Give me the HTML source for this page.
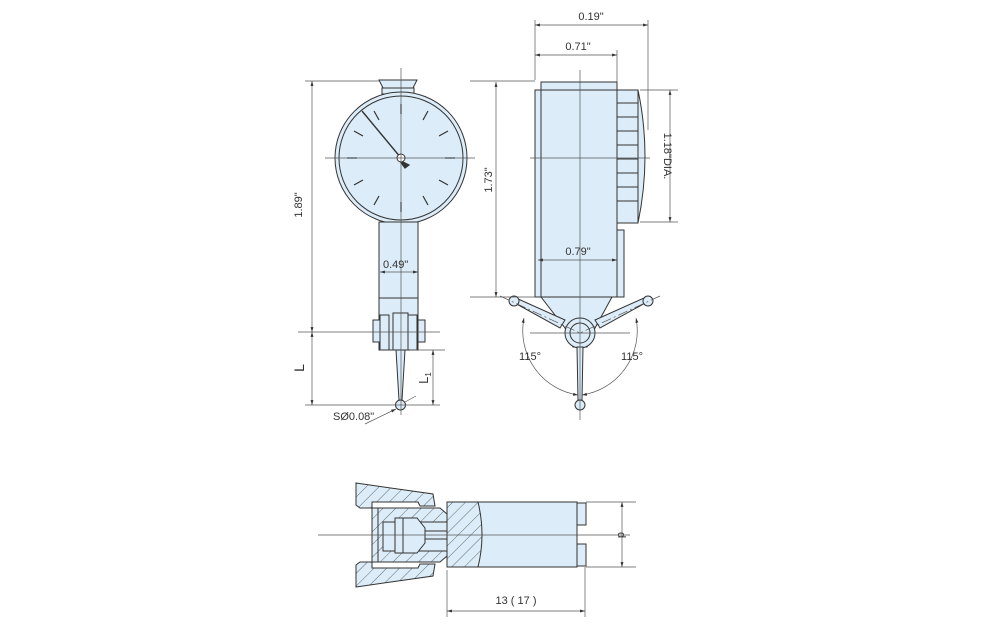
<!DOCTYPE html>
<html><head><meta charset="utf-8"><style>
html,body{margin:0;padding:0;background:#fff;}
svg{display:block;}
text{font-family:"Liberation Sans",sans-serif;font-size:11px;fill:#333;}
</style></head><body>
<svg width="1000" height="635" viewBox="0 0 1000 635" xmlns="http://www.w3.org/2000/svg">
<defs>
<pattern id="h" width="9" height="9" patternUnits="userSpaceOnUse" patternTransform="rotate(45)">
<rect width="9" height="9" fill="#dcedf9"/><line x1="0" y1="0" x2="0" y2="9" stroke="#444" stroke-width="0.8"/>
</pattern>
<marker id="a" viewBox="0 0 10 10" refX="10" refY="5" markerWidth="7" markerHeight="7" orient="auto-start-reverse"><path d="M0,2 L10,5 L0,8 z" fill="#333"/></marker>
</defs>
<g stroke="#333" stroke-width="1" fill="#dcedf9">
<!-- LEFT VIEW -->
<path d="M379,80 L417,80 L412,90 L384,90 Z"/>
<rect x="382" y="88" width="32" height="6"/>
<circle cx="401" cy="158" r="66"/>
<circle cx="401" cy="158" r="62"/>
<rect x="379" y="222" width="39" height="76"/>
<rect x="379" y="298" width="39" height="52"/>
<rect x="373" y="320" width="7" height="22"/>
<rect x="418" y="320" width="7" height="22"/>
<rect x="380" y="315" width="9" height="35"/>
<rect x="408" y="315" width="9" height="35"/>
<rect x="393" y="313" width="15" height="37"/>
<path d="M396,350 L405,350 L402,400 L399,400 Z"/>
<circle cx="400.5" cy="405" r="5"/>
</g>
<g stroke="#333" stroke-width="1.2">
<line x1="401" y1="104" x2="401" y2="114"/><line x1="401" y1="202" x2="401" y2="212"/>
<line x1="347" y1="158" x2="357" y2="158"/><line x1="445" y1="158" x2="455" y2="158"/>
<line x1="374" y1="111" x2="379" y2="120"/><line x1="428" y1="111" x2="423" y2="120"/>
<line x1="354" y1="131" x2="363" y2="136"/><line x1="448" y1="131" x2="439" y2="136"/>
<line x1="354" y1="185" x2="363" y2="180"/><line x1="448" y1="185" x2="439" y2="180"/>
<line x1="374" y1="205" x2="379" y2="196"/><line x1="428" y1="205" x2="423" y2="196"/>
<line x1="362" y1="111" x2="401" y2="158" stroke-width="1.4"/>
<path d="M399,160 L409,165 L405,168 Z" fill="#333"/>
</g>
<circle cx="401" cy="158" r="4" fill="#fff" stroke="#333"/>
<g stroke="#555" stroke-width="0.7" fill="none">
<line x1="401" y1="68" x2="401" y2="415"/>
<line x1="325" y1="158" x2="475" y2="158"/>
<line x1="305" y1="81" x2="380" y2="81"/>
<line x1="298" y1="332" x2="440" y2="332"/>
<line x1="410" y1="350" x2="445" y2="350"/>
<line x1="305" y1="405" x2="440" y2="405"/>
<line x1="312" y1="81" x2="312" y2="332" marker-start="url(#a)" marker-end="url(#a)"/>
<line x1="312" y1="332" x2="312" y2="405" marker-start="url(#a)" marker-end="url(#a)"/>
<line x1="433" y1="350" x2="433" y2="405" marker-start="url(#a)" marker-end="url(#a)"/>
<line x1="380" y1="272" x2="418" y2="272" marker-start="url(#a)" marker-end="url(#a)"/>
<line x1="365" y1="424" x2="396" y2="409" marker-end="url(#a)"/>
<line x1="416" y1="396" x2="405" y2="402"/>
</g>
<text x="302" y="205" transform="rotate(-90 302 205)" text-anchor="middle">1.89"</text>
<text x="383" y="268">0.49"</text>
<text x="304" y="368" transform="rotate(-90 304 368)" text-anchor="middle" style="font-size:14px">L</text>
<text x="428" y="378" transform="rotate(-90 428 378)" text-anchor="middle" style="font-size:13px">L<tspan style="font-size:8px" dy="3">1</tspan></text>
<text x="333" y="420">SØ0.08"</text>

<!-- RIGHT VIEW -->
<g stroke="#333" stroke-width="1" fill="#dcedf9">
<path d="M617,90 L638,90 Q652,156 638,223 L617,223 Z"/>
<rect x="617" y="90" width="21" height="133"/>
<rect x="617" y="230" width="7" height="67"/>
<rect x="541" y="82" width="76" height="8"/>
<rect x="535" y="90" width="82" height="207"/>
<line x1="541" y1="90" x2="541" y2="297"/>
<path d="M541,297 L612,297 L595,328 L587,347 L573,347 L565,328 Z"/>
<path d="M513,302 L560,328 L565,320 L516,298 Z"/>
<path d="M647,302 L600,328 L595,320 L644,298 Z"/>
<circle cx="514" cy="301" r="5"/>
<circle cx="648" cy="301" r="5"/>
<circle cx="580" cy="333" r="15"/>
<circle cx="580" cy="333" r="10"/>
<path d="M577,347 L583,347 L582,400 L578,400 Z"/>
<circle cx="580" cy="405" r="5"/>
</g>
<g stroke="#333" stroke-width="1">
<line x1="617" y1="103" x2="638" y2="103"/><line x1="617" y1="117" x2="638" y2="117"/>
<line x1="617" y1="131" x2="638" y2="131"/><line x1="617" y1="145" x2="638" y2="145"/>
<line x1="617" y1="159" x2="638" y2="159"/><line x1="617" y1="173" x2="638" y2="173"/>
<line x1="617" y1="187" x2="638" y2="187"/><line x1="617" y1="201" x2="638" y2="201"/>
</g>
<g stroke="#555" stroke-width="0.7" fill="none">
<line x1="580" y1="70" x2="580" y2="420"/>
<line x1="530" y1="158" x2="650" y2="158"/>
<line x1="530" y1="333" x2="630" y2="333"/>
<line x1="535" y1="20" x2="535" y2="80"/>
<line x1="470" y1="81" x2="535" y2="81"/>
<line x1="617" y1="50" x2="617" y2="82"/>
<line x1="648" y1="20" x2="648" y2="130"/>
<line x1="535" y1="25" x2="648" y2="25" marker-start="url(#a)" marker-end="url(#a)"/>
<line x1="535" y1="55" x2="617" y2="55" marker-start="url(#a)" marker-end="url(#a)"/>
<line x1="470" y1="297" x2="535" y2="297"/>
<line x1="496" y1="82" x2="496" y2="297" marker-start="url(#a)" marker-end="url(#a)"/>
<line x1="640" y1="90" x2="678" y2="90"/>
<line x1="640" y1="222" x2="678" y2="222"/>
<line x1="670" y1="90" x2="670" y2="222" marker-start="url(#a)" marker-end="url(#a)"/>
<line x1="538" y1="260" x2="617" y2="260" marker-start="url(#a)" marker-end="url(#a)"/>
<line x1="500" y1="296" x2="580" y2="333" stroke-dasharray="10,3,2,3"/>
<line x1="660" y1="296" x2="580" y2="333" stroke-dasharray="10,3,2,3"/>
<path d="M524,318 A65,65 0 0 0 578,395" marker-start="url(#a)" marker-end="url(#a)"/>
<path d="M636,318 A65,65 0 0 1 582,395" marker-start="url(#a)" marker-end="url(#a)"/>
</g>
<text x="591" y="20" text-anchor="middle">0.19"</text>
<text x="578" y="50" text-anchor="middle">0.71"</text>
<text x="492" y="180" transform="rotate(-90 492 180)" text-anchor="middle">1.73"</text>
<text x="664" y="156" transform="rotate(90 664 156)" text-anchor="middle">1.18"DIA.</text>
<text x="578" y="255" text-anchor="middle">0.79"</text>
<text x="530" y="360" text-anchor="middle">115°</text>
<text x="632" y="360" text-anchor="middle">115°</text>

<!-- BOTTOM VIEW -->
<g stroke="#333" stroke-width="1">
<rect x="447" y="502" width="130" height="65" fill="#dcedf9"/>
<path d="M447,502 L478,502 Q486,535 478,567 L447,567 Z" fill="url(#h)"/>
<rect x="577" y="503" width="9" height="22" fill="#dcedf9"/>
<rect x="577" y="544" width="9" height="22" fill="#dcedf9"/>
<path d="M356,483 L433,494 L435,506 L420,506 L418,502 L372,502 L372,508 L360,508 L356,505 Z" fill="url(#h)"/>
<path d="M356,587 L433,576 L435,564 L420,564 L418,568 L372,568 L372,562 L360,562 L356,565 Z" fill="url(#h)"/>
<path d="M372,508 L440,508 L447,514 L447,556 L440,562 L372,562 Z" fill="url(#h)"/>
<rect x="383" y="522" width="64" height="29" fill="#dcedf9"/>
<path d="M395,518 L417,518 L425,528 L425,543 L417,553 L395,553 Z" fill="#dcedf9"/>
<line x1="403" y1="518" x2="403" y2="553"/>
<rect x="425" y="531" width="22" height="8" fill="#dcedf9"/>
<line x1="378" y1="508" x2="378" y2="562"/>
</g>
<g stroke="#555" stroke-width="0.7" fill="none">
<line x1="318" y1="535" x2="630" y2="535"/>
<line x1="586" y1="502" x2="636" y2="502"/>
<line x1="586" y1="567" x2="636" y2="567"/>
<line x1="622" y1="502" x2="622" y2="567" marker-start="url(#a)" marker-end="url(#a)"/>
<line x1="447" y1="570" x2="447" y2="617"/>
<line x1="585" y1="567" x2="585" y2="617"/>
<line x1="447" y1="611" x2="585" y2="611" marker-start="url(#a)" marker-end="url(#a)"/>
</g>
<text x="618" y="535" transform="rotate(90 618 535)" text-anchor="middle">d</text>
<text x="516" y="604" text-anchor="middle">13 ( 17 )</text>
</svg>
</body></html>
